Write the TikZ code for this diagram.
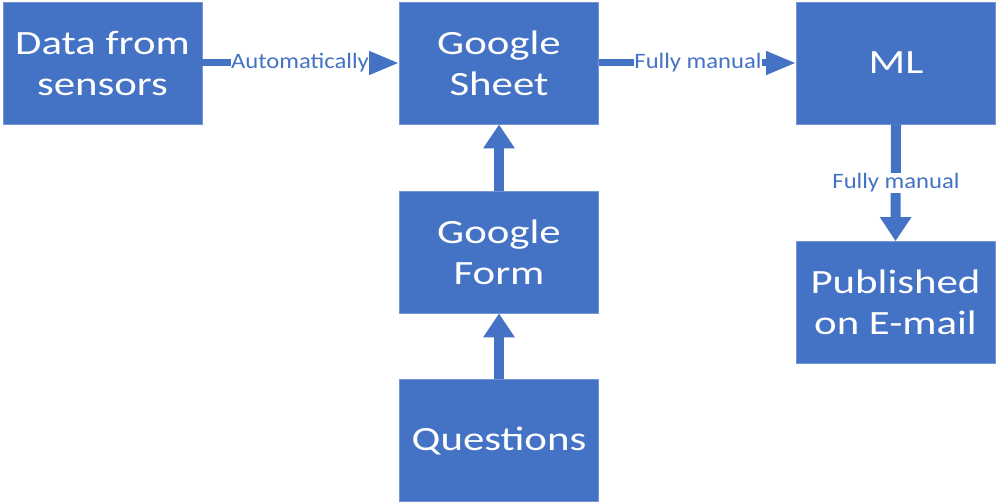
\documentclass[tikz,border=0pt]{standalone}
\usepackage{fontspec}
\setmainfont{Carlito}
\newfontfamily\boxfont[FakeStretch=1.26]{Carlito}
\newfontfamily\labelfont[FakeStretch=1.12]{Carlito}
\usetikzlibrary{arrows.meta}
\definecolor{officeblue}{HTML}{4472C4}
\begin{document}
\begin{tikzpicture}[x=1pt,y=-1pt,
  block/.style={fill=officeblue, draw=officeblue!75!white, line width=0.8pt,
    text=white, align=center, minimum width=199pt, minimum height=122pt,
    inner sep=0pt, font=\boxfont\fontsize{34}{41}\selectfont},
  harrow/.style={draw=officeblue, line width=7pt,
    -{Triangle[length=30pt,width=22pt]}},
  varrow/.style={draw=officeblue, line width=10pt,
    -{Triangle[length=24pt,width=30pt]}},
  tag/.style={fill=white, text=officeblue, inner sep=0.6pt,
    font=\labelfont\fontsize{22}{24}\selectfont}]
\useasboundingbox (0,0) rectangle (996,503);

% boxes
\node[block] (sensors)   at (102.5,63)  {Data from\\sensors};
\node[block] (sheet)     at (499,63)    {Google\\Sheet};
\node[block] (ml)        at (896,63)    {ML};
\node[block] (form)      at (499,252)   {Google\\Form};
\node[block] (questions) at (499,440.5) {Questions};
\node[block] (published) at (895.5,302.5) {Published\\on E-mail};

% connectors
\draw[harrow] (sensors.east) -- (sheet.west);
\draw[harrow] (sheet.east) -- (ml.west);
\draw[varrow] (questions.north) -- (form.south);
\draw[varrow] (form.north) -- (sheet.south);
\draw[varrow] (ml.south) -- (published.north);

% connector labels
\node[tag] (tagauto) at (300,63)  {Automatically};
\node[tag] (tagfm1)  at (698,63)  {Fully manual};
\node[tag] (tagfm2)  at (896,183) {Fully manual};
\end{tikzpicture}
\end{document}
